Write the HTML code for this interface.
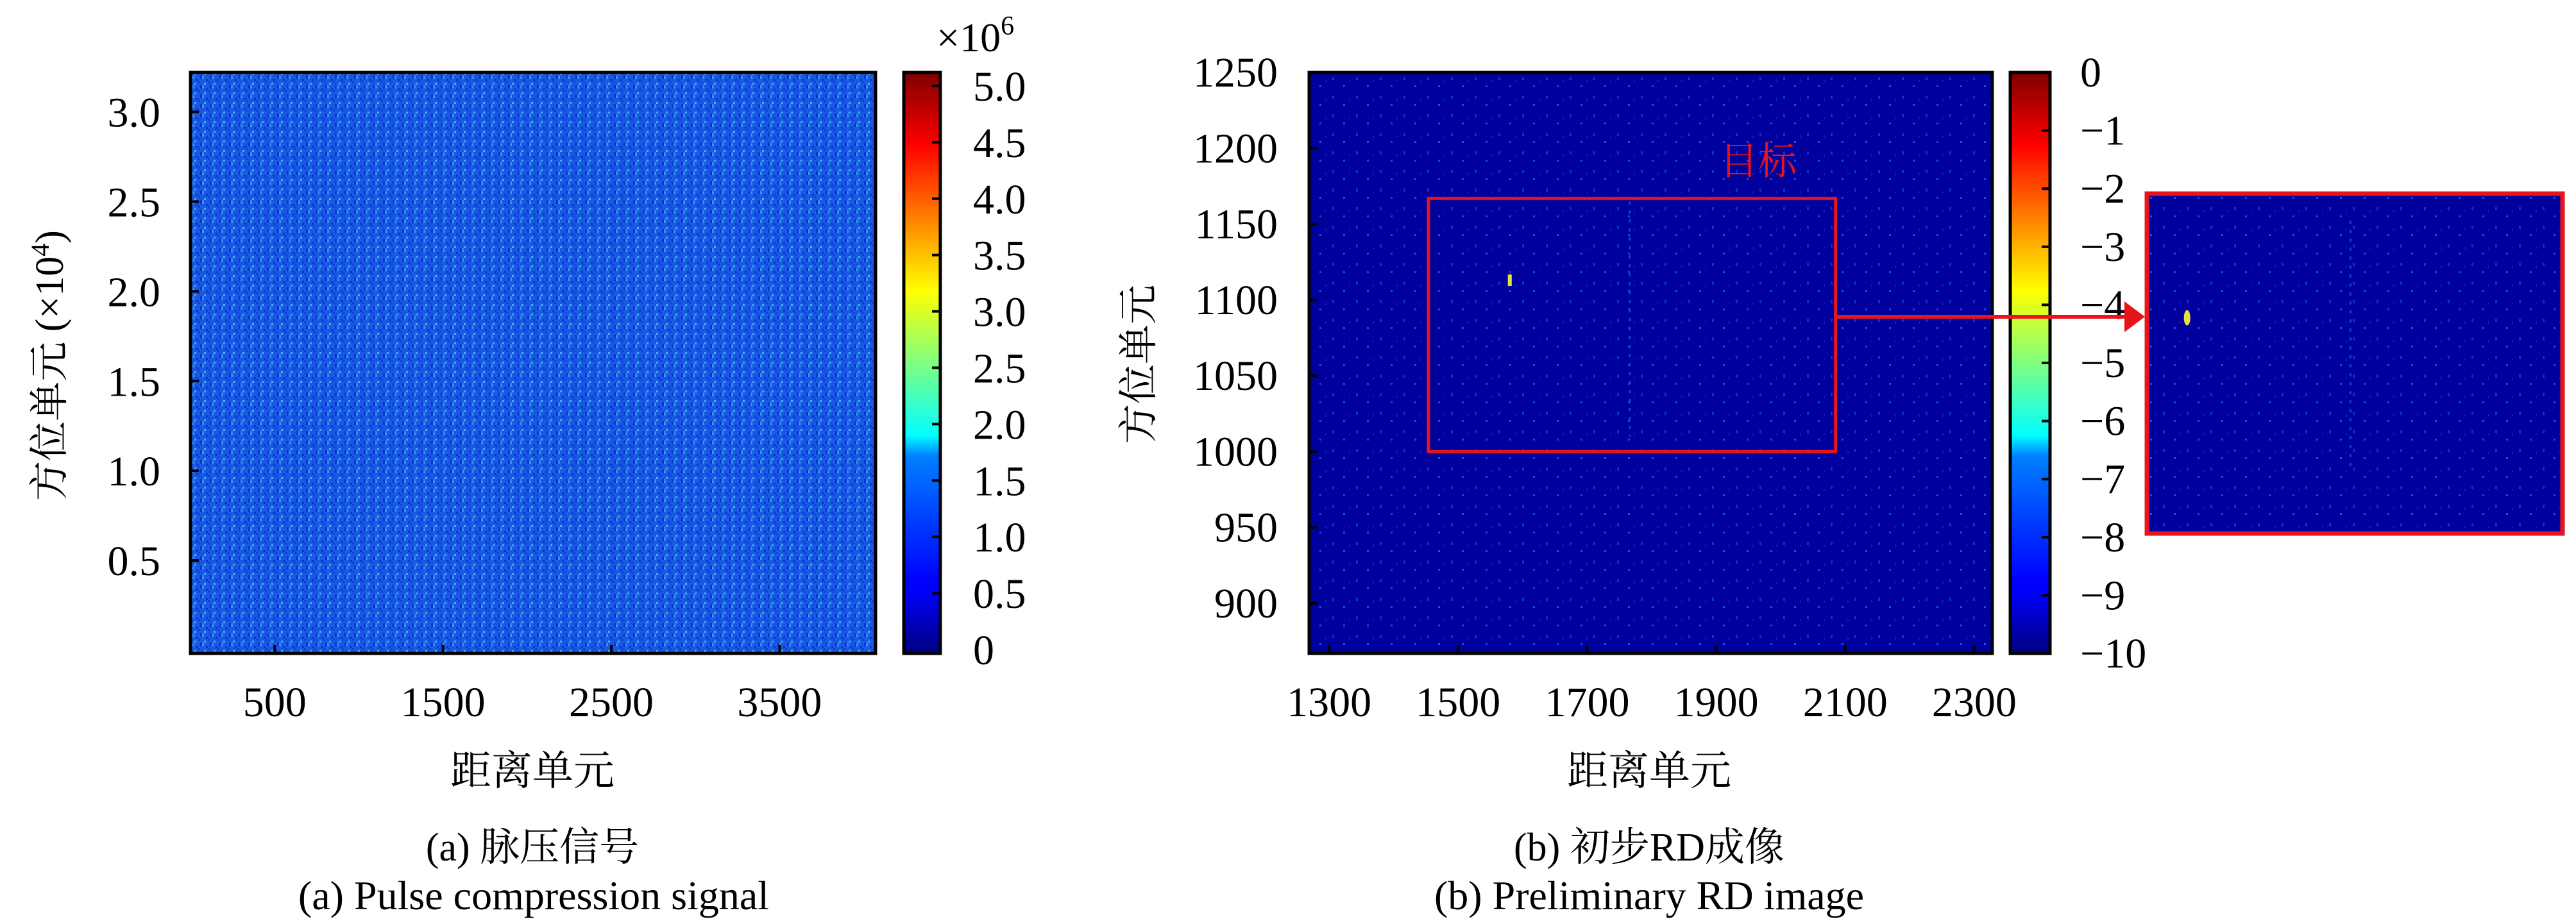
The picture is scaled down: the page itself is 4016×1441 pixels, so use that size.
<!DOCTYPE html>
<html><head><meta charset="utf-8"><style>
html,body{margin:0;padding:0;background:#fff;}
svg text{font-family:"Liberation Serif","Noto Serif CJK SC",serif;fill:#000;}
</style></head><body>
<svg id="fig" width="4016" height="1436" viewBox="0 0 4016 1436" xmlns="http://www.w3.org/2000/svg">
<defs>
<linearGradient id="jet" x1="0" y1="1" x2="0" y2="0">
<stop offset="0" stop-color="#00007f"/><stop offset="0.11" stop-color="#0000ff"/><stop offset="0.125" stop-color="#0000ff"/>
<stop offset="0.34" stop-color="#0080ff"/><stop offset="0.375" stop-color="#00ffff"/><stop offset="0.5" stop-color="#80ff80"/>
<stop offset="0.625" stop-color="#ffff00"/><stop offset="0.875" stop-color="#ff0000"/><stop offset="1" stop-color="#7f0000"/>
</linearGradient>
<pattern id="noiseA" width="15" height="15" patternUnits="userSpaceOnUse">
<rect width="15" height="15" fill="#1a58e2"/>
<rect x="0" y="0" width="3" height="3" fill="#2f9bf0"/><rect x="6" y="3" width="3" height="3" fill="#0a2ee0"/>
<rect x="3" y="9" width="3" height="3" fill="#37b6f2"/><rect x="12" y="12" width="3" height="3" fill="#0a35d8"/>
<rect x="9" y="6" width="3" height="3" fill="#0f3fe0"/><rect x="0" y="12" width="3" height="3" fill="#2a85ee"/>
<rect x="12" y="0" width="3" height="3" fill="#0c30d8"/>
</pattern>
<pattern id="noiseB" width="37" height="29" patternUnits="userSpaceOnUse">
<rect width="37" height="29" fill="#00009c"/>
<rect x="5" y="4" width="3" height="5" fill="#0a30d8"/><rect x="22" y="17" width="3" height="3" fill="#1050e8"/>
<rect x="31" y="8" width="2" height="4" fill="#0020c0"/>
</pattern>
</defs>
<g id="left"></g>
<g id="right"></g>
</svg>
<script>
const NS='http://www.w3.org/2000/svg';
// ---- data ----
const leftXTicks=[500,1500,2500,3500];
const leftYTicks=[0.5,1.0,1.5,2.0,2.5,3.0];
const leftCbTicks=[0,0.5,1.0,1.5,2.0,2.5,3.0,3.5,4.0,4.5,5.0];
const rightXTicks=[1300,1500,1700,1900,2100,2300];
const rightYTicks=[900,950,1000,1050,1100,1150,1200,1250];
const rightCbTicks=[0,-1,-2,-3,-4,-5,-6,-7,-8,-9,-10];
const targetX=[1580];
const targetY=[1113];
const streakX=[1766];
const boxRange=[1454,2085];
const boxAzimuth=[1000,1167];
const insetRange=[1532,2009];
const insetAzimuth=[1008,1174];

function el(parent,tag,attrs,text){const e=document.createElementNS(NS,tag);for(const k in attrs)e.setAttribute(k,attrs[k]);if(text!==undefined)e.textContent=text;parent.appendChild(e);return e;}
function lin(d0,d1,r0,r1){return v=>r0+(v-d0)/(d1-d0)*(r1-r0);}
const fs=66;

// ---- left panel ----
const L=document.getElementById('left');
const lx=lin(0,4070,297,1365), ly=lin(0,3.22,1014,113);
let hm=el(L,'rect',{x:297,y:113,width:1068,height:906,fill:'url(#noiseA)'});


let fr=el(L,'rect',{x:297,y:113,width:1068,height:906,fill:'none',stroke:'#000','stroke-width':5});


leftXTicks.forEach(v=>{const x=lx(v);
 el(L,'line',{x1:x,y1:1019,x2:x,y2:1006,stroke:'#000','stroke-width':4});
 const t=el(L,'text',{x:x,y:1117,'font-size':fs,'text-anchor':'middle'},String(v));
 
 });
leftYTicks.forEach(v=>{const y=ly(v);
 el(L,'line',{x1:297,y1:y,x2:310,y2:y,stroke:'#000','stroke-width':4});
 const t=el(L,'text',{x:250,y:y+23,'font-size':fs,'text-anchor':'end'},v.toFixed(1));
 
 });
let cb=el(L,'rect',{x:1409,y:113,width:57,height:906,fill:'url(#jet)',stroke:'#000','stroke-width':5});


const lcy=lin(0,5.0,1013,134);
leftCbTicks.forEach(v=>{const y=lcy(v);
 if(v>0)el(L,'line',{x1:1453,y1:y,x2:1466,y2:y,stroke:'#000','stroke-width':4});
 const t=el(L,'text',{x:1517,y:y+23,'font-size':fs},v===0?'0':v.toFixed(1));
 
 });
let ex=el(L,'text',{x:1460,y:80,'font-size':64},'×10');
el(ex,'tspan',{dy:-26,'font-size':42},'6');


let yl=el(L,'text',{x:0,y:0,'font-size':62,'text-anchor':'middle',transform:'translate(98,570) rotate(-90)'},'方位单元 (×10');
el(yl,'tspan',{dy:-22,'font-size':40},'4');
el(yl,'tspan',{dy:22},')');


let xl=el(L,'text',{x:830,y:1224,'font-size':64,'text-anchor':'middle'},'距离单元');


let c1=el(L,'text',{x:830,y:1342,'font-size':62,'text-anchor':'middle'},'(a) 脉压信号');


let c2=el(L,'text',{x:832,y:1418,'font-size':64,'text-anchor':'middle'},'(a) Pulse compression signal');



// ---- right panel ----
const R=document.getElementById('right');
const rx=lin(1269,2328,2041,3106), ry=lin(867,1250,1019,113);
let hm2=el(R,'rect',{x:2041,y:113,width:1065,height:906,fill:'url(#noiseB)'});


streakX.forEach(v=>{const s=el(R,'line',{x1:rx(v),y1:ry(1165),x2:rx(v),y2:ry(1010),stroke:'#1040d8','stroke-width':3,'stroke-dasharray':'5 9'});
 
 });
targetX.forEach((v,i)=>{const t=el(R,'rect',{x:rx(v)-3,y:ry(targetY[i])-9,width:6,height:18,fill:'#e8e040'});
 
 });
let fr2=el(R,'rect',{x:2041,y:113,width:1065,height:906,fill:'none',stroke:'#000','stroke-width':5});


rightXTicks.forEach(v=>{const x=rx(v);
 el(R,'line',{x1:x,y1:1019,x2:x,y2:1006,stroke:'#000','stroke-width':4});
 const t=el(R,'text',{x:x,y:1117,'font-size':fs,'text-anchor':'middle'},String(v));
 
 });
rightYTicks.forEach(v=>{const y=ry(v);
 el(R,'line',{x1:2041,y1:y,x2:2054,y2:y,stroke:'#000','stroke-width':4});
 const t=el(R,'text',{x:1992,y:y+22,'font-size':fs,'text-anchor':'end'},String(v));
 
 });
let bx=el(R,'rect',{x:rx(boxRange[0]),y:ry(boxAzimuth[1]),width:rx(boxRange[1])-rx(boxRange[0]),height:ry(boxAzimuth[0])-ry(boxAzimuth[1]),fill:'none',stroke:'#e8141b','stroke-width':5});


let tl=el(R,'text',{x:2741,y:272,'font-size':60,'text-anchor':'middle',style:'fill:#e8141b'},'目标');


let cb2=el(R,'rect',{x:3134,y:113,width:62,height:906,fill:'url(#jet)',stroke:'#000','stroke-width':5});


const rcy=lin(-10,0,1019,113);
rightCbTicks.forEach(v=>{const y=rcy(v);
 if(v<0&&v>-10)el(R,'line',{x1:3183,y1:y,x2:3196,y2:y,stroke:'#000','stroke-width':4});
 const t=el(R,'text',{x:3243,y:y+22,'font-size':fs},v<0?'−'+(-v):'0');
 
 });
let ar=el(R,'line',{x1:rx(boxRange[1]),y1:494,x2:3318,y2:494,stroke:'#e8141b','stroke-width':6});


let ah=el(R,'polygon',{points:'3312,470 3344,494 3312,518',fill:'#e8141b'});


let ins=el(R,'rect',{x:3347,y:302,width:648,height:530,fill:'url(#noiseB)',stroke:'#e8141b','stroke-width':7});


const ix=lin(insetRange[0],insetRange[1],3344,3997), iy=lin(insetAzimuth[0],insetAzimuth[1],834,299);
streakX.forEach(v=>{const s=el(R,'line',{x1:ix(v),y1:iy(1160),x2:ix(v),y2:iy(1040),stroke:'#1040d8','stroke-width':3,'stroke-dasharray':'5 9'});
 
 });
targetX.forEach((v,i)=>{const t=el(R,'ellipse',{cx:ix(v),cy:iy(targetY[i]),rx:5,ry:12,fill:'#e8e040'});
 
 });
let yl2=el(R,'text',{x:0,y:0,'font-size':62,'text-anchor':'middle',transform:'translate(1796,568) rotate(-90)'},'方位单元');


let xl2=el(R,'text',{x:2571,y:1224,'font-size':64,'text-anchor':'middle'},'距离单元');


let c3=el(R,'text',{x:2571,y:1342,'font-size':62,'text-anchor':'middle'},'(b) 初步RD成像');


let c4=el(R,'text',{x:2571,y:1418,'font-size':64,'text-anchor':'middle'},'(b) Preliminary RD image');


</script>
</body></html>
